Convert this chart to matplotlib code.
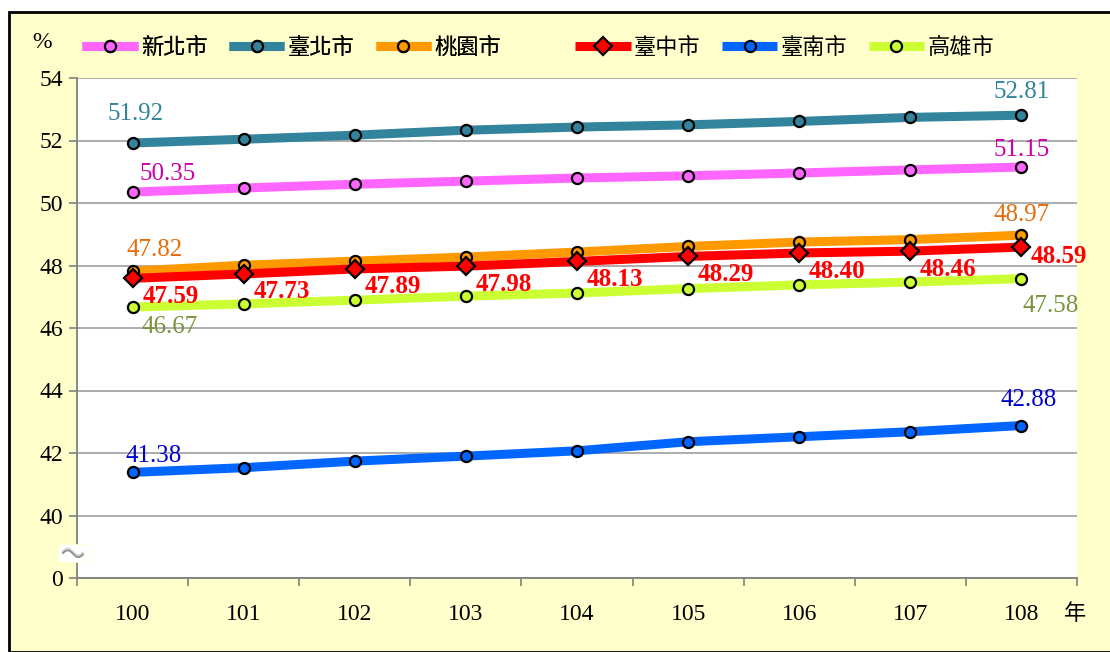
import matplotlib.pyplot as plt
import matplotlib.patches as mpatches
import numpy as np

years = ["100", "101", "102", "103", "104", "105", "106", "107", "108"]
names = ["新北市", "臺北市", "桃園市", "臺中市", "臺南市", "高雄市"]
xinbei = [50.35, 50.48, 50.60, 50.70, 50.80, 50.87, 50.96, 51.06, 51.15]
taipei = [51.92, 52.04, 52.17, 52.33, 52.43, 52.50, 52.61, 52.74, 52.81]
taoyuan = [47.82, 48.01, 48.14, 48.27, 48.43, 48.61, 48.75, 48.83, 48.97]
taichung = [47.59, 47.73, 47.89, 47.98, 48.13, 48.29, 48.40, 48.46, 48.59]
tainan = [41.38, 41.53, 41.74, 41.90, 42.07, 42.36, 42.52, 42.68, 42.88]
kaohsiung = [46.67, 46.77, 46.89, 47.02, 47.12, 47.26, 47.38, 47.47, 47.58]
yticks = [38, 40, 42, 44, 46, 48, 50, 52, 54]
ylabels = ["0", "40", "42", "44", "46", "48", "50", "52", "54"]

serif = "Liberation Serif"
cjk = ["Noto Sans CJK TC", "DejaVu Sans"]

fig = plt.figure(figsize=(11.1, 6.52), dpi=100)
fig.patch.set_facecolor("white")
fig.patches.append(mpatches.Rectangle((9/1110, 0), 1.0, 1 - 12/652, transform=fig.transFigure,
                                      facecolor="#FFFFCC", edgecolor="black", linewidth=2, zorder=-10))

ax = fig.add_axes([77/1110, 1 - 578/652, 1000/1110, 500/652])
ax.set_facecolor("white")
x = np.arange(len(years))

series = [
    (xinbei, "#FF66FF", "o"),
    (taipei, "#31849B", "o"),
    (taoyuan, "#FF9900", "o"),
    (taichung, "#FF0000", "D"),
    (tainan, "#0066FF", "o"),
    (kaohsiung, "#CCFF33", "o"),
]
handles = []
for (vals, col, mk), nm in zip(series, names):
    ms = 9 if mk == "D" else 8
    h, = ax.plot(x, vals, color=col, linewidth=6.5, marker=mk, markersize=ms,
                 markerfacecolor=col, markeredgecolor="black", markeredgewidth=1.6,
                 solid_capstyle="butt", label=nm, zorder=3)
    handles.append(h)

# end labels
def lab(i, v, col, dx, dy, ha="center", **kw):
    ax.annotate(f"{v:.2f}", (x[i], v), xytext=(dx, dy), textcoords="offset points",
                ha=ha, va="center", color=col, fontsize=18, family=serif, **kw)

lab(0, taipei[0], "#31849B", 2, 21)
lab(8, taipei[8], "#31849B", 0, 16.5)
lab(0, xinbei[0], "#CC00AA", 25, 13)
lab(8, xinbei[8], "#CC00AA", 0, 12)
lab(0, taoyuan[0], "#E46C0A", 16, 15)
lab(8, taoyuan[8], "#E46C0A", 0, 14.5)
lab(0, kaohsiung[0], "#77933C", 27, -14)
lab(8, kaohsiung[8], "#77933C", 21, -20)
lab(0, tainan[0], "#0000CC", 15, 11.5)
lab(8, tainan[8], "#0000CC", 5, 18)
for i, v in enumerate(taichung):
    if i < 8:
        dx, dy = 7, -13
    else:
        dx, dy = 6.5, -7
    ax.annotate(f"{v:.2f}", (x[i], v), xytext=(dx, dy), textcoords="offset points",
                ha="left", va="center", color="#FF0000", fontsize=18,
                family=serif, fontweight="bold")

ax.set_xlim(-0.5, len(years) - 0.5)
ax.set_ylim(38, 54)
ax.set_yticks(yticks)
ax.set_yticklabels(ylabels, family=serif, fontsize=17)
ax.set_xticks(x)
ax.set_xticklabels(years, family=serif, fontsize=17)
ax.set_xticks(np.arange(len(years) + 1) - 0.5, minor=True)
ax.tick_params(axis="x", which="major", length=0, pad=19)
ax.tick_params(axis="x", which="minor", length=6, color="#808080", width=1.2, direction="out")
ax.tick_params(axis="y", length=6, color="#808080", width=1.2, direction="out", pad=4)
ax.grid(axis="y", color="#A6A6A6", linewidth=1.3, zorder=0)
ax.set_axisbelow(True)
for s in ["top", "right"]:
    ax.spines[s].set_visible(False)
for s in ["left", "bottom"]:
    ax.spines[s].set_color("#808080")
    ax.spines[s].set_linewidth(1.3)

# axis break mark
bx, by = 74/1110, 1 - 553/652
fig.patches.append(mpatches.Rectangle((bx - 16/1110, by - 9/652), 32/1110, 18/652,
                                      transform=fig.transFigure, facecolor="white",
                                      edgecolor="#FFFFCC", linewidth=0.5, zorder=5))
t = np.linspace(0, 1, 30)
sx = bx + (-11 + 20 * t) / 1110
sy = by + (3 * np.sin(2 * np.pi * t) - 1.5 * t) / 652
fig.add_artist(plt.Line2D(sx, sy + 2/652, transform=fig.transFigure, color="#D8D8D8", linewidth=1.3, zorder=6))
fig.add_artist(plt.Line2D(sx, sy, transform=fig.transFigure, color="#909090", linewidth=1.4, zorder=6))

fig.text(42/1110, 1 - 42/652, "%", family=serif, fontsize=17, ha="center", va="center")
fig.text(1075/1110, 1 - 613/652, "年", family=cjk, fontsize=16, ha="center", va="center")

legprops = dict(loc="center left", ncol=3, frameon=False, prop={"family": cjk, "size": 16},
                handlelength=2.5, handletextpad=0.15, columnspacing=0.95, borderaxespad=0,
                borderpad=0)
leg1 = fig.legend(handles=handles[:3], bbox_to_anchor=(82/1110, 1 - 47/652), **legprops)
fig.add_artist(leg1)
fig.legend(handles=handles[3:], bbox_to_anchor=(575/1110, 1 - 47/652), **legprops)

fig.savefig("out.png", dpi=100)
